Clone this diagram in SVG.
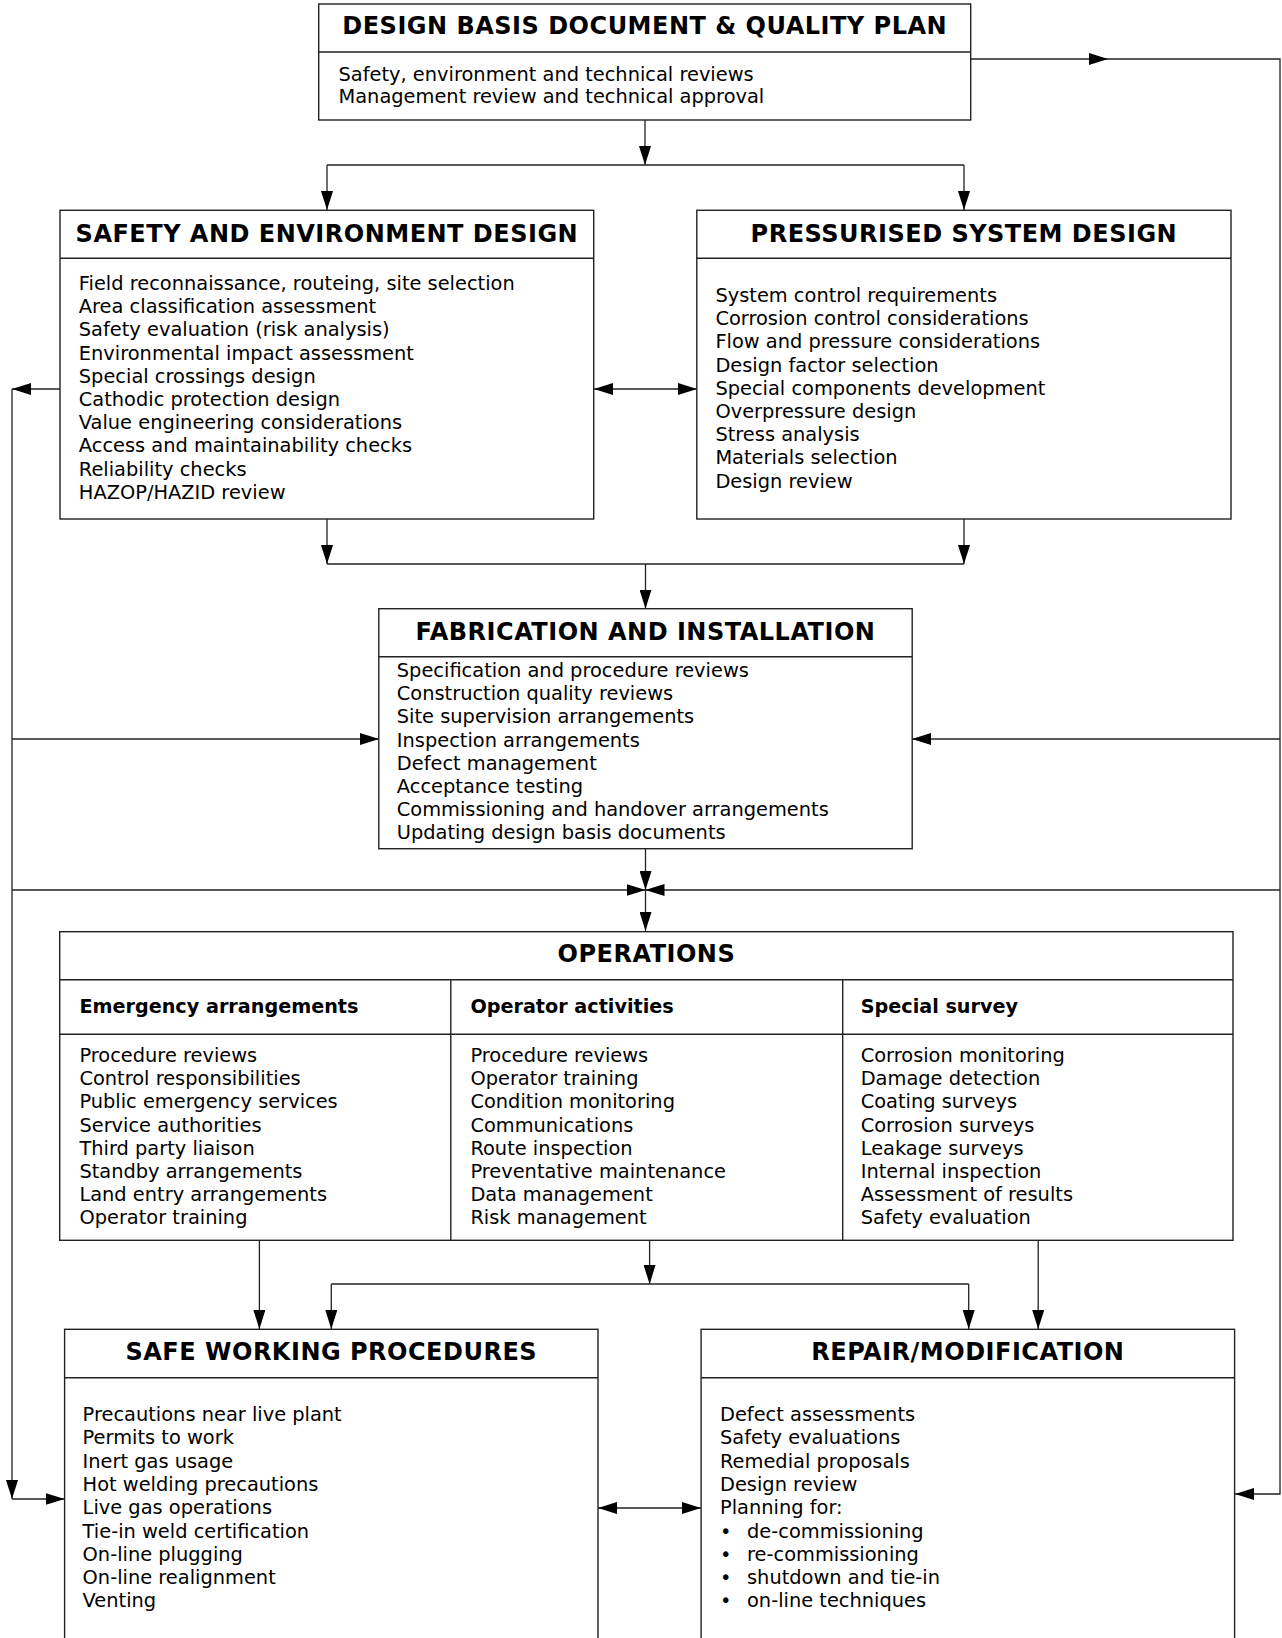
<svg xmlns="http://www.w3.org/2000/svg" width="1282" height="1638" viewBox="0 0 1282 1638">
<style>
.box{fill:#fff;stroke:#222;stroke-width:1.4}
.div{stroke:#222;stroke-width:1.4}
.t{font-family:"DejaVu Sans","Verdana",sans-serif;font-weight:bold;font-size:24px;letter-spacing:0.5px;fill:#000;text-anchor:middle}
.h{font-family:"DejaVu Sans","Verdana",sans-serif;font-weight:bold;font-size:19.2px;fill:#000}
.b{font-family:"DejaVu Sans","Verdana",sans-serif;font-size:19.4px;fill:#000}
.c{fill:none;stroke:#222;stroke-width:1.3}
</style>
<defs>
<marker id="a" markerUnits="userSpaceOnUse" markerWidth="19" markerHeight="12" refX="19" refY="6" orient="auto-start-reverse">
<path d="M0,0 L19,6 L0,12 z" fill="#000"/>
</marker>
</defs>
<rect width="1282" height="1638" fill="#fff"/>

<g id="connectors">
<path class="c" d="M645,120 V165" marker-end="url(#a)"/>
<path class="c" d="M327,165 H964"/>
<path class="c" d="M327,165 V210" marker-end="url(#a)"/>
<path class="c" d="M964,165 V210" marker-end="url(#a)"/>
<path class="c" d="M971,59 H1108" marker-end="url(#a)"/>
<path class="c" d="M1108,59 H1280 V1494 H1235" marker-end="url(#a)"/>
<path class="c" d="M594,389 H697" marker-start="url(#a)" marker-end="url(#a)"/>
<path class="c" d="M60,389 H12" marker-end="url(#a)"/>
<path class="c" d="M12,389 V1499" marker-end="url(#a)"/>
<path class="c" d="M12,1499 H64.6" marker-end="url(#a)"/>
<path class="c" d="M327,519 V564" marker-end="url(#a)"/>
<path class="c" d="M964,519 V564" marker-end="url(#a)"/>
<path class="c" d="M327,564 H964"/>
<path class="c" d="M645.5,564 V608.7" marker-end="url(#a)"/>
<path class="c" d="M12,739 H379" marker-end="url(#a)"/>
<path class="c" d="M1280,739 H912" marker-end="url(#a)"/>
<path class="c" d="M645.5,849 V890" marker-end="url(#a)"/>
<path class="c" d="M12,890 H645.5" marker-end="url(#a)"/>
<path class="c" d="M1280,890 H645.5" marker-end="url(#a)"/>
<path class="c" d="M645.5,890 V931" marker-end="url(#a)"/>
<path class="c" d="M259.4,1240 V1329" marker-end="url(#a)"/>
<path class="c" d="M649.6,1240 V1284" marker-end="url(#a)"/>
<path class="c" d="M331.3,1284 H968.7"/>
<path class="c" d="M331.3,1284 V1329" marker-end="url(#a)"/>
<path class="c" d="M968.7,1284 V1329" marker-end="url(#a)"/>
<path class="c" d="M1038.2,1240 V1329" marker-end="url(#a)"/>
<path class="c" d="M598,1508 H701" marker-start="url(#a)" marker-end="url(#a)"/>
</g>

<g id="design-basis">
<rect class="box" x="318.7" y="4" width="652" height="116"/>
<line class="div" x1="318.7" y1="52" x2="970.7" y2="52"/>
<text class="t" x="644.7" y="34">DESIGN BASIS DOCUMENT &amp; QUALITY PLAN</text>
<text class="b" x="338.5" y="81">Safety, environment and technical reviews</text>
<text class="b" x="338.5" y="103">Management review and technical approval</text>
</g>

<g id="safety-env">
<rect class="box" x="60" y="210.3" width="533.7" height="308.7"/>
<line class="div" x1="60" y1="258.3" x2="593.7" y2="258.3"/>
<text class="t" x="326.9" y="242">SAFETY AND ENVIRONMENT DESIGN</text>
<text class="b" x="78.8" y="290">Field reconnaissance, routeing, site selection</text>
<text class="b" x="78.8" y="313.2">Area classification assessment</text>
<text class="b" x="78.8" y="336.4">Safety evaluation (risk analysis)</text>
<text class="b" x="78.8" y="359.6">Environmental impact assessment</text>
<text class="b" x="78.8" y="382.8">Special crossings design</text>
<text class="b" x="78.8" y="406">Cathodic protection design</text>
<text class="b" x="78.8" y="429.2">Value engineering considerations</text>
<text class="b" x="78.8" y="452.4">Access and maintainability checks</text>
<text class="b" x="78.8" y="475.6">Reliability checks</text>
<text class="b" x="78.8" y="498.8">HAZOP/HAZID review</text>
</g>

<g id="pressurised">
<rect class="box" x="696.8" y="210.3" width="534.2" height="308.7"/>
<line class="div" x1="696.8" y1="258.3" x2="1231" y2="258.3"/>
<text class="t" x="963.9" y="242">PRESSURISED SYSTEM DESIGN</text>
<text class="b" x="715.4" y="302">System control requirements</text>
<text class="b" x="715.4" y="325.2">Corrosion control considerations</text>
<text class="b" x="715.4" y="348.4">Flow and pressure considerations</text>
<text class="b" x="715.4" y="371.6">Design factor selection</text>
<text class="b" x="715.4" y="394.8">Special components development</text>
<text class="b" x="715.4" y="418">Overpressure design</text>
<text class="b" x="715.4" y="441.2">Stress analysis</text>
<text class="b" x="715.4" y="464.4">Materials selection</text>
<text class="b" x="715.4" y="487.6">Design review</text>
</g>

<g id="fabrication">
<rect class="box" x="378.8" y="608.7" width="533.4" height="240"/>
<line class="div" x1="378.8" y1="656.7" x2="912.2" y2="656.7"/>
<text class="t" x="645.5" y="640">FABRICATION AND INSTALLATION</text>
<text class="b" x="396.8" y="677">Specification and procedure reviews</text>
<text class="b" x="396.8" y="700.2">Construction quality reviews</text>
<text class="b" x="396.8" y="723.4">Site supervision arrangements</text>
<text class="b" x="396.8" y="746.6">Inspection arrangements</text>
<text class="b" x="396.8" y="769.8">Defect management</text>
<text class="b" x="396.8" y="793">Acceptance testing</text>
<text class="b" x="396.8" y="816.2">Commissioning and handover arrangements</text>
<text class="b" x="396.8" y="839.4">Updating design basis documents</text>
</g>

<g id="operations">
<rect class="box" x="59.7" y="931.7" width="1173.3" height="308.6"/>
<line class="div" x1="59.7" y1="979.7" x2="1233" y2="979.7"/>
<line class="div" x1="59.7" y1="1034.3" x2="1233" y2="1034.3"/>
<line class="div" x1="450.8" y1="979.7" x2="450.8" y2="1240.3"/>
<line class="div" x1="842.7" y1="979.7" x2="842.7" y2="1240.3"/>
<text class="t" x="646.4" y="962">OPERATIONS</text>
<text class="h" x="79.4" y="1013">Emergency arrangements</text>
<text class="h" x="470.4" y="1013">Operator activities</text>
<text class="h" x="860.7" y="1013">Special survey</text>
<text class="b" x="79.4" y="1062">Procedure reviews</text>
<text class="b" x="79.4" y="1085.2">Control responsibilities</text>
<text class="b" x="79.4" y="1108.4">Public emergency services</text>
<text class="b" x="79.4" y="1131.6">Service authorities</text>
<text class="b" x="79.4" y="1154.8">Third party liaison</text>
<text class="b" x="79.4" y="1178">Standby arrangements</text>
<text class="b" x="79.4" y="1201.2">Land entry arrangements</text>
<text class="b" x="79.4" y="1224.4">Operator training</text>
<text class="b" x="470.4" y="1062">Procedure reviews</text>
<text class="b" x="470.4" y="1085.2">Operator training</text>
<text class="b" x="470.4" y="1108.4">Condition monitoring</text>
<text class="b" x="470.4" y="1131.6">Communications</text>
<text class="b" x="470.4" y="1154.8">Route inspection</text>
<text class="b" x="470.4" y="1178">Preventative maintenance</text>
<text class="b" x="470.4" y="1201.2">Data management</text>
<text class="b" x="470.4" y="1224.4">Risk management</text>
<text class="b" x="860.7" y="1062">Corrosion monitoring</text>
<text class="b" x="860.7" y="1085.2">Damage detection</text>
<text class="b" x="860.7" y="1108.4">Coating surveys</text>
<text class="b" x="860.7" y="1131.6">Corrosion surveys</text>
<text class="b" x="860.7" y="1154.8">Leakage surveys</text>
<text class="b" x="860.7" y="1178">Internal inspection</text>
<text class="b" x="860.7" y="1201.2">Assessment of results</text>
<text class="b" x="860.7" y="1224.4">Safety evaluation</text>
</g>

<g id="safe-working">
<rect class="box" x="64.6" y="1329.3" width="533.4" height="330"/>
<line class="div" x1="64.6" y1="1377.7" x2="598" y2="1377.7"/>
<text class="t" x="331.3" y="1360">SAFE WORKING PROCEDURES</text>
<text class="b" x="82.6" y="1421">Precautions near live plant</text>
<text class="b" x="82.6" y="1444.3">Permits to work</text>
<text class="b" x="82.6" y="1467.6">Inert gas usage</text>
<text class="b" x="82.6" y="1490.9">Hot welding precautions</text>
<text class="b" x="82.6" y="1514.2">Live gas operations</text>
<text class="b" x="82.6" y="1537.5">Tie-in weld certification</text>
<text class="b" x="82.6" y="1560.8">On-line plugging</text>
<text class="b" x="82.6" y="1584.1">On-line realignment</text>
<text class="b" x="82.6" y="1607.4">Venting</text>
</g>

<g id="repair">
<rect class="box" x="701.1" y="1329.3" width="533.5" height="330"/>
<line class="div" x1="701.1" y1="1377.7" x2="1234.6" y2="1377.7"/>
<text class="t" x="967.9" y="1360">REPAIR/MODIFICATION</text>
<text class="b" x="720" y="1421">Defect assessments</text>
<text class="b" x="720" y="1444.3">Safety evaluations</text>
<text class="b" x="720" y="1467.6">Remedial proposals</text>
<text class="b" x="720" y="1490.9">Design review</text>
<text class="b" x="720" y="1514.2">Planning for:</text>
<text class="b" x="720" y="1537.5">•</text><text class="b" x="747" y="1537.5">de-commissioning</text>
<text class="b" x="720" y="1560.8">•</text><text class="b" x="747" y="1560.8">re-commissioning</text>
<text class="b" x="720" y="1584.1">•</text><text class="b" x="747" y="1584.1">shutdown and tie-in</text>
<text class="b" x="720" y="1607.4">•</text><text class="b" x="747" y="1607.4">on-line techniques</text>
</g>
</svg>
